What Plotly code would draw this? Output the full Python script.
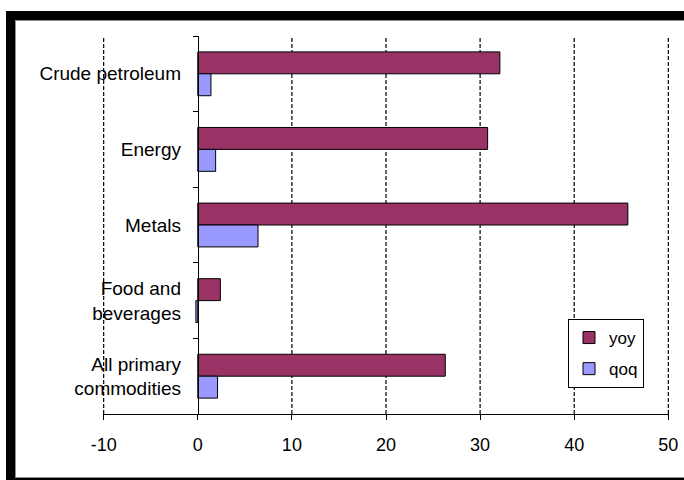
import plotly.graph_objects as go

categories = ["Crude petroleum", "Energy", "Metals", "Food and<br>beverages", "All primary<br>commodities"]
yoy = [32.1, 30.8, 45.7, 2.4, 26.3]
qoq = [1.4, 1.9, 6.4, -0.2, 2.1]
x_ticks = [-10, 0, 10, 20, 30, 40, 50]

W, H = 684, 480
L, R, T, B = 103, 15, 36, 66
PW, PH = W - L - R, H - T - B

def px(x):
    return (x - L) / PW

def py(y):
    return 1 - (y - T) / PH

FONT = "Liberation Sans, Arial, sans-serif"

fig = go.Figure()
fig.add_trace(go.Bar(
    y=categories, x=yoy, orientation="h", name="yoy",
    marker=dict(color="#993366", line=dict(color="#000000", width=1)),
    legendgroup="a",
))
fig.add_trace(go.Bar(
    y=categories, x=qoq, orientation="h", name="qoq",
    marker=dict(color="#9999FF", line=dict(color="#000000", width=1)),
    legendgroup="b",
))

shapes = []
# dashed vertical gridlines at tick values (0 is covered by the axis line)
for v in x_ticks:
    if v == 0:
        continue
    shapes.append(dict(type="line", xref="x", yref="paper", x0=v, x1=v, y0=0, y1=1,
                       line=dict(color="#000000", width=1.2, dash="4px,2px"), layer="below"))

shapes += [
    # frame
    dict(type="rect", xref="paper", yref="paper", x0=px(6), x1=px(684), y0=py(11), y1=py(20),
         fillcolor="#000000", line=dict(width=0), layer="above"),
    dict(type="rect", xref="paper", yref="paper", x0=px(6), x1=px(15), y0=py(11), y1=py(480),
         fillcolor="#000000", line=dict(width=0), layer="above"),
    dict(type="rect", xref="paper", yref="paper", x0=px(6), x1=px(684), y0=py(478), y1=py(480),
         fillcolor="#000000", line=dict(width=0), layer="above"),
    dict(type="line", xref="paper", yref="paper", x0=px(15), x1=px(684), y0=py(20.5), y1=py(20.5),
         line=dict(color="#909090", width=1), layer="above"),
    dict(type="line", xref="paper", yref="paper", x0=px(15.5), x1=px(15.5), y0=py(20), y1=py(478),
         line=dict(color="#909090", width=1), layer="above"),
    dict(type="line", xref="paper", yref="paper", x0=px(15), x1=px(684), y0=py(477.5), y1=py(477.5),
         line=dict(color="#909090", width=1), layer="above"),
]

XMIN, XMAX = -10.07, 50.07

fig.update_layout(
    width=W, height=H,
    margin=dict(l=L, r=R, t=T, b=B, pad=0, autoexpand=False),
    paper_bgcolor="#FFFFFF", plot_bgcolor="#FFFFFF",
    font=dict(family=FONT, size=18, color="#000000"),
    barmode="group", bargap=0.42, bargroupgap=0,
    showlegend=True,
    legend=dict(
        x=px(568), y=py(319), xanchor="left", yanchor="top",
        bgcolor="#FFFFFF", bordercolor="#000000", borderwidth=1,
        font=dict(family=FONT, size=17, color="#000000"),
        traceorder="grouped", tracegroupgap=6, itemwidth=30,
    ),
    xaxis=dict(
        range=[XMIN, XMAX], tickvals=x_ticks, ticktext=[str(v) for v in x_ticks],
        automargin=False,
        showgrid=False, zeroline=False, showline=True, linecolor="#000000", linewidth=1,
        ticks="outside", ticklen=5, tickcolor="#000000", tickwidth=1,
        ticklabelstandoff=9, fixedrange=True,
        tickfont=dict(family=FONT, size=18, color="#000000"),
    ),
    yaxis=dict(
        autorange="reversed", anchor="free", position=(0 - XMIN) / (XMAX - XMIN),
        automargin=False,
        showgrid=False, zeroline=False, showline=True, linecolor="#000000", linewidth=1,
        ticks="outside", ticklen=5, tickcolor="#000000", tickwidth=1, tickson="boundaries",
        ticklabelstandoff=13, fixedrange=True,
        tickfont=dict(family=FONT, size=19, color="#000000"),
    ),
    shapes=shapes,
)

fig.write_html("out.html")
